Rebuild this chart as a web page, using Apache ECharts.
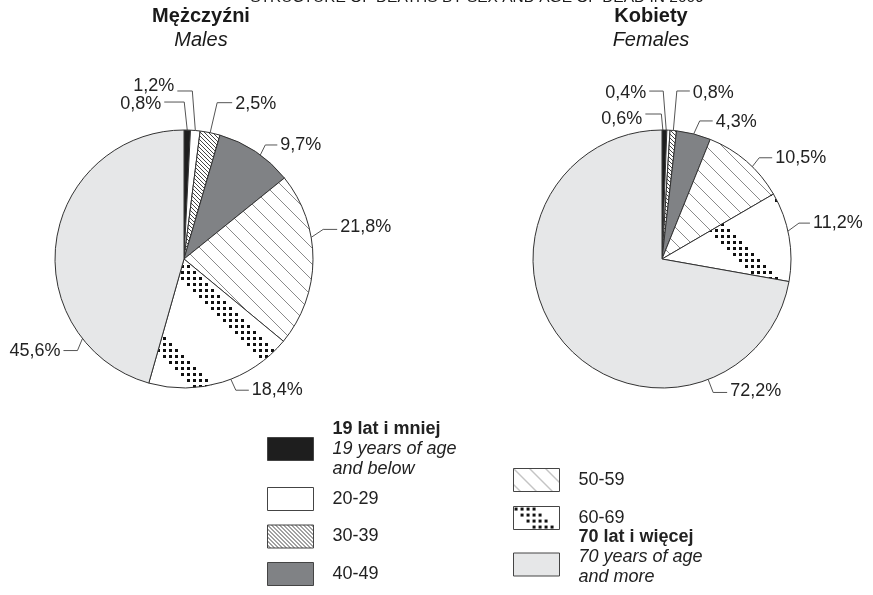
<!DOCTYPE html>
<html>
<head>
<meta charset="utf-8">
<script src="https://cdn.jsdelivr.net/npm/echarts@6/dist/echarts.min.js"></script>
<style>
html, body {margin: 0; padding: 0; background: #fff;}
#chart {width: 873px; height: 595px;}
</style>
</head>
<body>
<div id="chart"></div>
<script>
var categories = ['19 lat i mniej', '20-29', '30-39', '40-49', '50-59', '60-69', '70 lat i więcej'];
var categoriesEn = ['19 years of age\nand below', '', '', '', '', '', '70 years of age\nand more'];
var malesPct = [0.8, 1.2, 2.5, 9.7, 21.8, 18.4, 45.6];
var femalesPct = [0.6, 0.4, 0.8, 4.3, 10.5, 11.2, 72.2];

// label placement: [angle shift of line start, elbow dx, elbow dy, run, text dy]
var maleLabelPos = [[0, -3, -28, -20, 2], [0, -3, -39.5, -15, -4.5], [0, 7, -30, 15, 1], [2.6, 5, -10, 12, 0],
    [-10, 12, -8, 14, -2], [-4, 5, 11, 13, 0], [-46, -5, 12, -14, 0]];
var femaleLabelPos = [[-0.7, -1.5, -16, -16, 5], [-1, -3, -39, -14, 2], [0, 3.5, -39.5, 13, 2], [0, 6, -13, 13, 1],
    [3.5, 7, -9, 13, 0], [-2.4, 11, -8, 11, 0], [-71, 5, 13, 14, -1]];

var FONT = '"Liberation Sans", Arial, sans-serif';

function lines(size, width, color) {
    var c = document.createElement('canvas');
    c.width = size; c.height = size;
    var ctx = c.getContext('2d');
    ctx.fillStyle = '#fff';
    ctx.fillRect(0, 0, size, size);
    ctx.strokeStyle = color;
    ctx.lineWidth = width;
    for (var k = -size; k <= size; k += size) {
        ctx.beginPath();
        ctx.moveTo(k, 0);
        ctx.lineTo(k + size, size);
        ctx.stroke();
    }
    return {image: c, repeat: 'repeat'};
}

function dots() {
    var size = 96, cell = 6;
    var c = document.createElement('canvas');
    c.width = size; c.height = size;
    var ctx = c.getContext('2d');
    ctx.fillStyle = '#fff';
    ctx.fillRect(0, 0, size, size);
    ctx.fillStyle = '#111';
    var n = size / cell;
    for (var r = 0; r < n; r++) {
        for (var q = 0; q < n; q++) {
            var d = ((q - r) % n + n) % n;
            if (d < 4) ctx.fillRect(q * cell + 1, r * cell + 1, 3, 3);
        }
    }
    return {image: c, repeat: 'repeat'};
}

var fills = ['#1e1e1e', '#ffffff', lines(4, 1, '#444'), '#808285', lines(16, 1, '#8a8a8a'), dots(), '#e6e7e8'];

function pieData(values) {
    return values.map(function(v, i) {
        return {name: categories[i], value: v, itemStyle: {color: fills[i]}};
    });
}

function layoutFor(cfg, center) {
    return function(params) {
        var c = cfg[params.dataIndex];
        var p0 = params.labelLinePoints[0];
        var a = c[0] * Math.PI / 180;
        var vx = p0[0] - center[0], vy = p0[1] - center[1];
        var sx = center[0] + vx * Math.cos(a) - vy * Math.sin(a);
        var sy = center[1] + vx * Math.sin(a) + vy * Math.cos(a);
        var elbow = [sx + c[1], sy + c[2]];
        var end = [elbow[0] + c[3], elbow[1]];
        var right = c[3] > 0;
        return {
            x: end[0] + (right ? 3 : -3),
            y: end[1] + c[4],
            align: right ? 'left' : 'right',
            verticalAlign: 'middle',
            labelLinePoints: [[sx, sy], elbow, end]
        };
    };
}

function pieSeries(values, center, cfg) {
    return {
        type: 'pie',
        center: center,
        radius: 129,
        startAngle: 90,
        clockwise: true,
        avoidLabelOverlap: false,
        animation: false,
        emphasis: {disabled: true},
        itemStyle: {borderColor: '#333', borderWidth: 1},
        label: {
            show: true,
            position: 'outside',
            color: '#222',
            fontSize: 18,
            fontFamily: FONT,
            formatter: function(p) { return p.value.toFixed(1).replace('.', ',') + '%'; }
        },
        labelLine: {show: true, length: 10, length2: 10, lineStyle: {color: '#555', width: 1}},
        labelLayout: layoutFor(cfg, center),
        data: pieData(values)
    };
}

function legendBox(names, left, top, gap, pad) {
    return {
        data: names,
        orient: 'vertical',
        left: left,
        top: top,
        padding: 0,
        itemGap: gap,
        icon: 'rect',
        itemWidth: 46,
        itemHeight: 23,
        selectedMode: false,
        itemStyle: {borderColor: '#444', borderWidth: 1},
        textStyle: {
            color: '#222',
            fontFamily: FONT,
            fontSize: 18,
            padding: pad,
            rich: {
                b: {fontWeight: 'bold', fontSize: 18, lineHeight: 20, fontFamily: FONT, color: '#222'},
                i: {fontStyle: 'italic', fontSize: 18, lineHeight: 20, fontFamily: FONT, color: '#222'},
                n: {fontSize: 18, lineHeight: 20, fontFamily: FONT, color: '#222'}
            }
        },
        formatter: function(name) {
            var i = categories.indexOf(name);
            if (categoriesEn[i]) {
                return '{b|' + name + '}\n' + categoriesEn[i].split('\n').map(function(s) {
                    return '{i|' + s + '}';
                }).join('\n');
            }
            return '{n|' + name + '}';
        }
    };
}

function heading(text, x, y, bold, italic) {
    return {
        type: 'text', x: x, y: y, silent: true,
        style: {
            text: text, fill: '#1a1a1a', align: 'center', verticalAlign: 'middle',
            font: (italic ? 'italic ' : '') + (bold ? 'bold ' : '') + '20px ' + FONT
        }
    };
}

var chart = echarts.init(document.getElementById('chart'));
chart.setOption({
    backgroundColor: '#fff',
    animation: false,
    graphic: [
        {
            type: 'text', x: 477, y: 6, silent: true,
            style: {text: 'STRUCTURE OF DEATHS BY SEX AND AGE OF DEAD IN 2009', fill: '#1a1a1a',
                align: 'center', verticalAlign: 'bottom', font: '15.5px ' + FONT}
        },
        heading('Mężczyźni', 201, 16, true, false),
        heading('Males', 201, 40, false, true),
        heading('Kobiety', 651, 16, true, false),
        heading('Females', 651, 40, false, true)
    ],
    legend: [
        legendBox([categories[0]], 267, 420, 10, [0, 0, 0, 14]),
        legendBox(categories.slice(1, 4), 267, 487, 13.5, [0, 0, 0, 14]),
        legendBox(categories.slice(4, 6), 513, 468, 14, [0, 0, 0, 14]),
        legendBox([categories[6]], 513, 528, 10, [0, 0, 15, 14])
    ],
    series: [
        pieSeries(malesPct, [184, 259], maleLabelPos),
        pieSeries(femalesPct, [662, 259], femaleLabelPos)
    ]
});
</script>
</body>
</html>
